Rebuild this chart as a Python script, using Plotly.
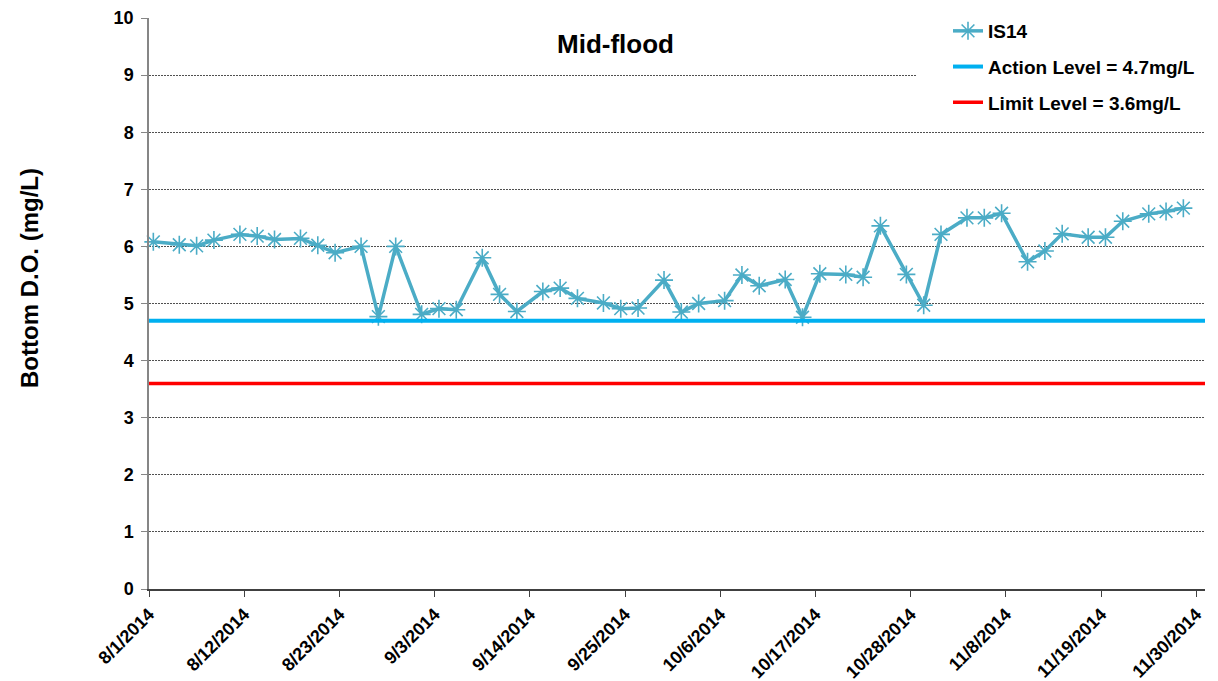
import pandas as pd
import plotly.graph_objects as go

# ---- data ----
dates = [
    "2014-08-01", "2014-08-04", "2014-08-06", "2014-08-08", "2014-08-11", "2014-08-13",
    "2014-08-15", "2014-08-18", "2014-08-20", "2014-08-22", "2014-08-25", "2014-08-27",
    "2014-08-29", "2014-09-01", "2014-09-03", "2014-09-05", "2014-09-08", "2014-09-10",
    "2014-09-12", "2014-09-15", "2014-09-17", "2014-09-19", "2014-09-22", "2014-09-24",
    "2014-09-26", "2014-09-29", "2014-10-01", "2014-10-03", "2014-10-06", "2014-10-08",
    "2014-10-10", "2014-10-13", "2014-10-15", "2014-10-17", "2014-10-20", "2014-10-22",
    "2014-10-24", "2014-10-27", "2014-10-29", "2014-10-31", "2014-11-03", "2014-11-05",
    "2014-11-07", "2014-11-10", "2014-11-12", "2014-11-14", "2014-11-17", "2014-11-19",
    "2014-11-21", "2014-11-24", "2014-11-26", "2014-11-28",
]
is14 = [
    6.08, 6.03, 6.01, 6.11, 6.21, 6.18,
    6.12, 6.14, 6.02, 5.89, 6.00, 4.77,
    6.00, 4.81, 4.91, 4.89, 5.80, 5.16,
    4.86, 5.21, 5.27, 5.09, 5.01, 4.91,
    4.92, 5.41, 4.85, 5.00, 5.05, 5.50,
    5.31, 5.42, 4.76, 5.52, 5.51, 5.46,
    6.36, 5.51, 4.97, 6.21, 6.50, 6.50,
    6.58, 5.73, 5.92, 6.22, 6.16, 6.16,
    6.44, 6.57, 6.61, 6.67,
]
x_range = ["2014-08-01", "2014-12-01"]
action_level = 4.7
limit_level = 3.6

series_name = "IS14"
action_name = "Action Level = 4.7mg/L"
limit_name = "Limit Level = 3.6mg/L"
chart_title = "Mid-flood"
y_title = "Bottom D.O. (mg/L)"

FONT = "Arial, Liberation Sans, sans-serif"

# each day occupies a slot on the date axis; points sit in the middle of their day
x_plot = pd.to_datetime(dates) + pd.Timedelta(hours=12)

fig = go.Figure()
fig.add_trace(go.Scatter(
    x=x_plot, y=is14, name=series_name, mode="lines+markers",
    line=dict(color="#4BACC6", width=3.5),
    marker=dict(symbol="asterisk-open", size=15, line=dict(color="#4BACC6", width=1.6)),
    cliponaxis=False, legendgroup="a",
))
fig.add_trace(go.Scatter(
    x=x_range, y=[action_level, action_level], name=action_name, mode="lines",
    line=dict(color="#00B0F0", width=4), legendgroup="b",
))
fig.add_trace(go.Scatter(
    x=x_range, y=[limit_level, limit_level], name=limit_name, mode="lines",
    line=dict(color="#FF0000", width=3.5), legendgroup="c",
))

# page body has an 8px margin; work in page pixels
OFF = 8
PAGE_W, PAGE_H = 1218, 681
W, H = PAGE_W - OFF, PAGE_H - OFF
PL, PR, PT, PB = 149, 1205, 18, 589          # plot area in page pixels
L, T = PL - OFF, PT - OFF
R, B = PAGE_W - PR, PAGE_H - PB
pw, ph = PR - PL, PB - PT

def px_x(p):
    return (p - PL) / pw

def px_y(p):
    return (PB - p) / ph

def cx(p):
    return (p - OFF) / W

def cy(p):
    return 1 - (p - OFF) / H

fig.update_layout(
    width=W, height=H,
    margin=dict(l=L, r=R, t=T, b=B, autoexpand=False),
    paper_bgcolor="white", plot_bgcolor="white",
    font=dict(family=FONT, color="black"),
    showlegend=True,
    legend=dict(
        xref="container", yref="container",
        x=cx(948), y=cy(12), xanchor="left", yanchor="top",
        bgcolor="rgba(255,255,255,0)",
        font=dict(size=19, family=FONT, weight="bold"),
        traceorder="grouped", tracegroupgap=8,
    ),
    xaxis=dict(
        type="date", range=x_range,
        tick0="2014-08-01", dtick=11 * 86400000, tickformat="%-m/%-d/%Y",
        tickangle=-45, tickfont=dict(size=18, family=FONT, weight="bold"),
        showline=True, linecolor="#404040", linewidth=1.5,
        ticks="outside", ticklen=6, tickcolor="#404040",
        showgrid=False, zeroline=False, automargin=False,
    ),
    yaxis=dict(
        range=[0, 10], dtick=1, tick0=0,
        tickfont=dict(size=18, family=FONT, weight="bold"),
        showline=True, linecolor="#868686", linewidth=1.5,
        ticks="outside", ticklen=6, tickcolor="#868686", ticklabelstandoff=4,
        showgrid=True, gridcolor="#505050", gridwidth=1, griddash="2px,1px",
        zeroline=False, automargin=False,
    ),
    shapes=[
        dict(type="rect", xref="paper", yref="paper",
             x0=px_x(916), x1=px_x(1218), y0=px_y(124), y1=px_y(8),
             fillcolor="white", line=dict(width=0), layer="above"),
    ],
    annotations=[
        dict(text=chart_title, xref="paper", yref="paper",
             x=px_x(615), y=px_y(44), xanchor="center", yanchor="middle",
             showarrow=False, font=dict(size=26, family=FONT, weight="bold")),
        dict(text=y_title, xref="paper", yref="paper", textangle=-90,
             x=px_x(29), y=px_y(278), xanchor="center", yanchor="middle",
             showarrow=False, font=dict(size=24, family=FONT, weight="bold")),
    ],
)

fig.write_html("out.html")
